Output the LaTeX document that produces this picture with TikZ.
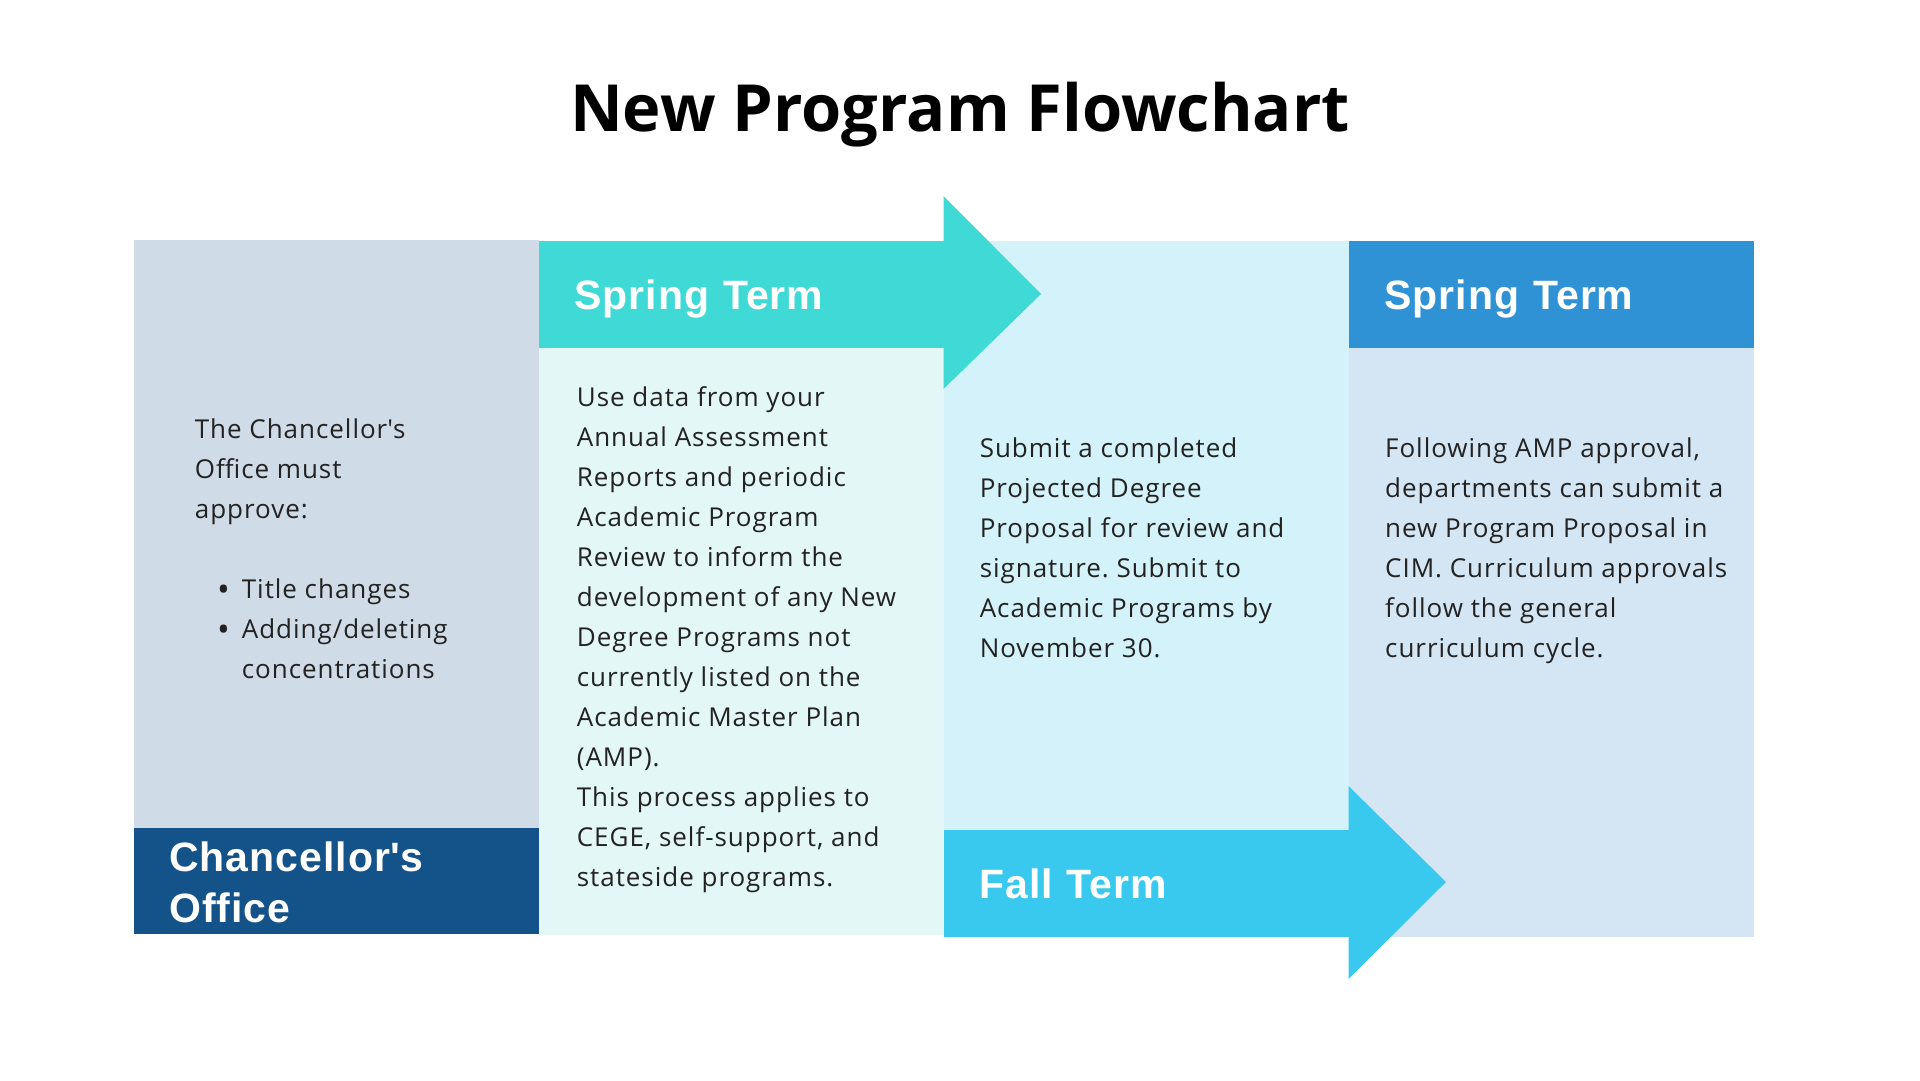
\documentclass[tikz,border=0pt]{standalone}
\usepackage{fontspec}
\setmainfont{Open Sans}[LetterSpace=3.7]
\newfontfamily\headfont{Liberation Sans}[LetterSpace=2.5]
\newfontfamily\titlefont{Open Sans}
\usepackage{tikz}
\usetikzlibrary{positioning}
\definecolor{officegray}{RGB}{207,220,232}
\definecolor{officeblue}{RGB}{20,82,138}
\definecolor{springteal}{RGB}{63,217,214}
\definecolor{springpale}{RGB}{227,247,247}
\definecolor{fallsky}{RGB}{57,201,239}
\definecolor{fallpale}{RGB}{212,242,250}
\definecolor{lateblue}{RGB}{46,146,213}
\definecolor{latepale}{RGB}{212,230,244}
\definecolor{bodygray}{RGB}{34,34,34}
\newcommand{\listdot}{\llap{\raisebox{-3pt}{\fontsize{34}{40}\selectfont\textbullet}\hspace{12pt}}}
\frenchspacing

\tikzset{
  colbox/.style={anchor=north west, minimum width=405pt, inner sep=0pt, outer sep=0pt},
  termhead/.style={anchor=north west, minimum height=107pt, text width=333pt,
        inner xsep=36pt, inner ysep=0pt, outer sep=0pt, align=left, text=white,
        font=\headfont\bfseries\fontsize{41}{51}\selectfont,
        text height=29pt, text depth=0pt},
  bodytext/.style={anchor=north west, inner sep=0pt, align=left, text=bodygray,
        font=\frenchspacing\fontsize{26}{40}\selectfont}
}

\begin{document}
\begin{tikzpicture}[x=1pt, y=-1pt]
  \useasboundingbox[fill=white] (0,0) rectangle (1920,1080);

  \node[anchor=base, font=\titlefont\bfseries\fontsize{65}{70}\selectfont] (title) at (960,131)
    {New Program Flowchart};

  % the four columns
  \node[colbox, fill=officegray, minimum height=694pt] (office) at (133.5,240) {};
  \node[colbox, fill=springpale, minimum height=694pt] (spring) at (538.5,241) {};
  \node[colbox, fill=fallpale, minimum height=696pt] (fall) at (943.5,241) {};
  \node[colbox, fill=latepale, minimum height=696pt] (late) at (1348.5,241) {};

  % coloured headers
  \node[termhead, fill=springteal] (springhead) at (spring.north west) {Spring Term};
  \node[termhead, fill=lateblue] (latehead) at (late.north west) {Spring Term};
  \node[termhead, fill=fallsky, anchor=south west] (fallhead) at (fall.south west) {Fall Term};
  \node[colbox, fill=officeblue, minimum height=106pt, anchor=south west] (officehead)
    at (office.south west) {};
  \node[anchor=north west, inner sep=0pt, align=left, text=white,
        font=\headfont\bfseries\fontsize{41}{51}\selectfont] (officetitle)
    at (169,842) {Chancellor\textquotesingle s\\Office};

  % arrow heads
  \fill[springteal] (943.5,196) -- (1041,294) -- (943.5,389) -- cycle;
  \fill[fallsky] (1348.5,786) -- (1446,882) -- (1348.5,979) -- cycle;

  % body texts
  \node[bodytext] (officetext) at (194.7,419)
    {The Chancellor\textquotesingle s\\Office must\\approve:};
  \node[bodytext] (officelist) at (241.7,579)
    {\listdot Title changes\\
     \listdot Adding/deleting\\
     concentrations};
  \node[bodytext] (springtext) at (576.7,386)
    {Use data from your\\Annual Assessment\\Reports and periodic\\
     Academic Program\\Review to inform the\\development of any New\\
     Degree Programs not\\currently listed on the\\Academic Master Plan\\
     (AMP).\\This process applies to\\CEGE, self-support, and\\
     stateside programs.};
  \node[bodytext] (falltext) at (979.6,438)
    {Submit a completed\\Projected Degree\\Proposal for review and\\
     signature. Submit to\\Academic Programs by\\November 30.};
  \node[bodytext] (latetext) at (1385,438)
    {Following AMP approval,\\departments can submit a\\new Program Proposal in\\
     CIM. Curriculum approvals\\follow the general\\curriculum cycle.};
\end{tikzpicture}
\end{document}
